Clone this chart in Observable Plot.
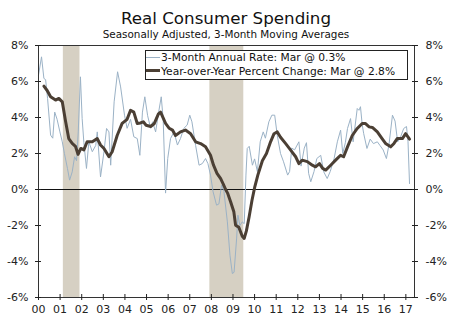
<!DOCTYPE html>
<html><head><meta charset="utf-8">
<script src="https://cdn.jsdelivr.net/npm/d3@7"></script>
<script src="https://cdn.jsdelivr.net/npm/@observablehq/plot@0.6"></script>
<style>
body{margin:0;background:#fff;}
#wrap{position:relative;width:450px;height:322px;}
#wrap svg{display:block;}
#overlay{position:absolute;left:0;top:0;}
</style></head><body>
<div id="wrap"></div>
<script>
// ---- data (decimal years) ----
const rateDates = [2000.00,2000.14,2000.25,2000.33,2000.42,2000.56,2000.66,2000.75,2000.86,2000.99,
2001.10,2001.20,2001.34,2001.44,2001.56,2001.67,2001.76,2001.84,2001.94,2002.02,2002.10,2002.22,2002.33,2002.49,2002.65,2002.72,2002.87,
2003.03,2003.15,2003.26,2003.34,2003.50,2003.66,2003.80,2003.98,2004.10,2004.26,2004.41,2004.57,2004.69,2004.81,2004.92,
2005.05,2005.19,2005.28,2005.42,2005.56,2005.68,2005.77,2005.88,2005.98,2006.11,2006.27,2006.43,2006.57,2006.72,2006.88,
2007.00,2007.10,2007.27,2007.43,2007.58,2007.73,2007.84,2007.96,2008.08,2008.24,2008.35,2008.47,2008.58,2008.74,2008.86,2008.97,
2009.05,2009.17,2009.23,2009.32,2009.43,2009.52,2009.60,2009.66,2009.75,2009.90,2010.00,2010.13,2010.26,2010.40,2010.50,2010.66,2010.80,2010.93,
2011.05,2011.20,2011.34,2011.53,2011.62,2011.72,2011.85,2012.05,2012.15,2012.30,2012.40,2012.50,2012.60,2012.75,2012.88,
2013.06,2013.20,2013.36,2013.50,2013.68,2013.83,2013.98,2014.08,2014.20,2014.30,2014.44,2014.56,2014.75,2014.83,2014.90,2014.98,
2015.05,2015.20,2015.35,2015.50,2015.68,2015.80,2015.95,2016.10,2016.22,2016.38,2016.50,2016.62,2016.75,2016.90,2017.03,2017.10,2017.17];
const rateValues = [6.35,7.37,6.17,6.1,5.06,3.02,2.85,4.3,3.9,3.2,
2.65,2.0,1.17,0.52,0.98,1.82,1.6,3.2,6.26,3.94,2.6,1.17,2.65,2.1,2.45,3.2,0.7,
2.1,3.39,3.2,1.35,4.87,6.54,5.7,4.13,3.4,3.9,2.93,2.83,1.9,4.3,5.15,
4.1,3.4,3.76,3.2,4.3,5.15,3.9,-0.2,1.72,2.83,3.2,2.47,2.83,3.39,3.58,
4.13,3.76,2.45,1.35,1.44,1.72,1.44,0.8,-0.13,-0.87,-0.8,0.24,-0.1,-1.8,-3.65,-4.67,
-4.6,-2.7,-1.43,-2.0,-1.8,-1.9,0.8,2.28,2.4,1.35,1.7,1.0,2.65,3.2,2.85,3.76,4.13,4.13,
3.0,2.0,1.54,0.8,1.0,2.3,2.2,2.65,1.3,2.3,2.6,0.9,0.43,1.0,1.72,
1.9,0.98,0.61,1.0,1.72,2.65,3.3,2.0,2.6,3.39,3.94,2.65,4.5,4.4,4.6,3.6,
3.1,2.28,2.8,2.55,2.65,2.45,2.2,1.72,2.5,4.13,3.8,2.65,2.9,3.39,3.5,2.65,0.33];

const yoyDates = [2000.25,2000.40,2000.56,2000.79,2000.94,2001.10,2001.25,2001.40,2001.56,2001.71,2001.83,2001.96,
2002.10,2002.25,2002.49,2002.72,2002.87,2003.03,2003.26,2003.41,2003.64,2003.87,2004.10,2004.26,2004.41,2004.57,2004.72,2004.85,2004.98,
2005.19,2005.35,2005.55,2005.65,2005.88,2006.05,2006.20,2006.34,2006.57,2006.80,2007.04,2007.27,2007.50,2007.73,2007.96,
2008.10,2008.26,2008.43,2008.55,2008.66,2008.75,2008.89,2009.04,2009.12,2009.27,2009.43,2009.52,2009.62,2009.75,2009.88,
2010.00,2010.15,2010.36,2010.55,2010.74,2010.90,2011.05,2011.20,2011.43,2011.67,2011.90,2012.05,2012.20,2012.44,2012.67,2012.82,
2013.00,2013.15,2013.29,2013.52,2013.75,2013.98,2014.12,2014.30,2014.52,2014.75,2014.98,2015.12,2015.30,2015.45,2015.68,2015.90,
2016.06,2016.30,2016.45,2016.60,2016.84,2016.99,2017.08,2017.17];
const yoyValues = [5.74,5.5,5.15,4.97,5.06,4.87,3.8,2.83,2.56,2.4,1.95,2.28,
2.2,2.65,2.65,2.83,2.47,2.28,1.82,2.1,3.0,3.67,3.9,4.4,4.3,3.67,3.7,3.76,3.57,
3.5,3.65,4.2,4.3,3.67,3.4,3.3,3.0,3.2,3.3,3.1,2.65,2.55,2.37,1.9,
1.35,0.9,0.6,0.3,0.0,-0.2,-0.68,-1.24,-1.98,-2.1,-2.6,-2.72,-2.3,-1.5,-0.6,
0.1,0.8,1.6,2.0,2.65,3.1,3.2,2.9,2.56,2.19,1.82,1.44,1.63,1.55,1.35,1.26,
1.44,1.17,1.08,1.35,1.63,1.9,1.82,2.37,3.0,3.39,3.67,3.67,3.48,3.45,3.2,2.83,
2.56,2.37,2.56,2.83,2.83,3.1,2.95,2.8];

const recessionStart = [2001.15, 2007.93];
const recessionEnd = [2001.92, 2009.5];
const yTicks = [-6,-4,-2,0,2,4,6,8];
const xTicks = [2000,2001,2002,2003,2004,2005,2006,2007,2008,2009,2010,2011,2012,2013,2014,2015,2016,2017];
const xTickLabels = ["00","01","02","03","04","05","06","07","08","09","10","11","12","13","14","15","16","17"];
const title = "Real Consumer Spending";
const subtitle = "Seasonally Adjusted, 3-Month Moving Averages";
const legendLabels = ["3-Month Annual Rate: Mar @ 0.3%", "Year-over-Year Percent Change: Mar @ 2.8%"];

const rateColor = "#9bb2c6", yoyColor = "#4b3f34", shadeColor = "#d6d0c3";

const rate = rateDates.map((d,i)=>({x:d, y:rateValues[i]}));
const yoy = yoyDates.map((d,i)=>({x:d, y:yoyValues[i]}));
const recessions = recessionStart.map((s,i)=>({start:s, end:recessionEnd[i]}));

const pct = d => d + "%";
const chart = Plot.plot({
  width: 450, height: 322,
  marginLeft: 38, marginRight: 36, marginTop: 45, marginBottom: 25,
  x: {domain: [2000, 2017.4]},
  y: {domain: [-6, 8]},
  style: {fontFamily: "DejaVu Sans", fontSize: "11px", color: "#222", background: "#fff"},
  marks: [
    Plot.rect(recessions, {x1: "start", x2: "end", fill: shadeColor}),
    Plot.ruleY([0], {stroke: "#111", strokeWidth: 1}),
    Plot.line(rate, {x: "x", y: "y", stroke: rateColor, strokeWidth: 1}),
    Plot.line(yoy, {x: "x", y: "y", stroke: yoyColor, strokeWidth: 3}),
    Plot.frame({stroke: "#333"}),
    Plot.axisY({anchor: "left", ticks: yTicks, tickSize: 6, dx: 3, tickFormat: () => "", label: null, stroke: "#222"}),
    Plot.axisY({anchor: "left", ticks: yTicks, tickSize: 0, tickPadding: 10, tickFormat: pct, label: null}),
    Plot.axisY({anchor: "right", ticks: yTicks, tickSize: 6, dx: -3, tickFormat: () => "", label: null, stroke: "#222"}),
    Plot.axisY({anchor: "right", ticks: yTicks, tickSize: 0, tickPadding: 11, tickFormat: pct, label: null}),
    Plot.axisX({anchor: "bottom", ticks: xTicks, tickSize: 6, dy: -3, tickFormat: () => "", label: null, stroke: "#222"}),
    Plot.axisX({anchor: "bottom", ticks: xTicks, tickSize: 0, tickPadding: 8, tickFormat: d => xTickLabels[xTicks.indexOf(d)], label: null})
  ]
});
const wrap = document.getElementById("wrap");
wrap.appendChild(chart);

// overlay: title, subtitle, legend
const ov = d3.select(wrap).append("svg").attr("id","overlay").attr("width",450).attr("height",90)
  .style("font-family","DejaVu Sans").style("pointer-events","none");
ov.append("text").attr("x",226).attr("y",24).attr("text-anchor","middle").attr("font-size",16.7).attr("fill","#111").text(title);
ov.append("text").attr("x",226).attr("y",38).attr("text-anchor","middle").attr("font-size",10.4).attr("fill","#111").text(subtitle);
ov.append("rect").attr("x",145.5).attr("y",50.5).attr("width",262).attr("height",29).attr("fill","#fff").attr("stroke","#222");
ov.append("line").attr("x1",146).attr("x2",160).attr("y1",57.5).attr("y2",57.5).attr("stroke",rateColor).attr("stroke-width",1);
ov.append("line").attr("x1",146).attr("x2",160).attr("y1",70.5).attr("y2",70.5).attr("stroke",yoyColor).attr("stroke-width",3);
ov.append("text").attr("x",161).attr("y",61).attr("font-size",10.7).attr("fill","#111").text(legendLabels[0]);
ov.append("text").attr("x",161).attr("y",74.5).attr("font-size",10.7).attr("fill","#111").text(legendLabels[1]);
</script>
</body></html>
